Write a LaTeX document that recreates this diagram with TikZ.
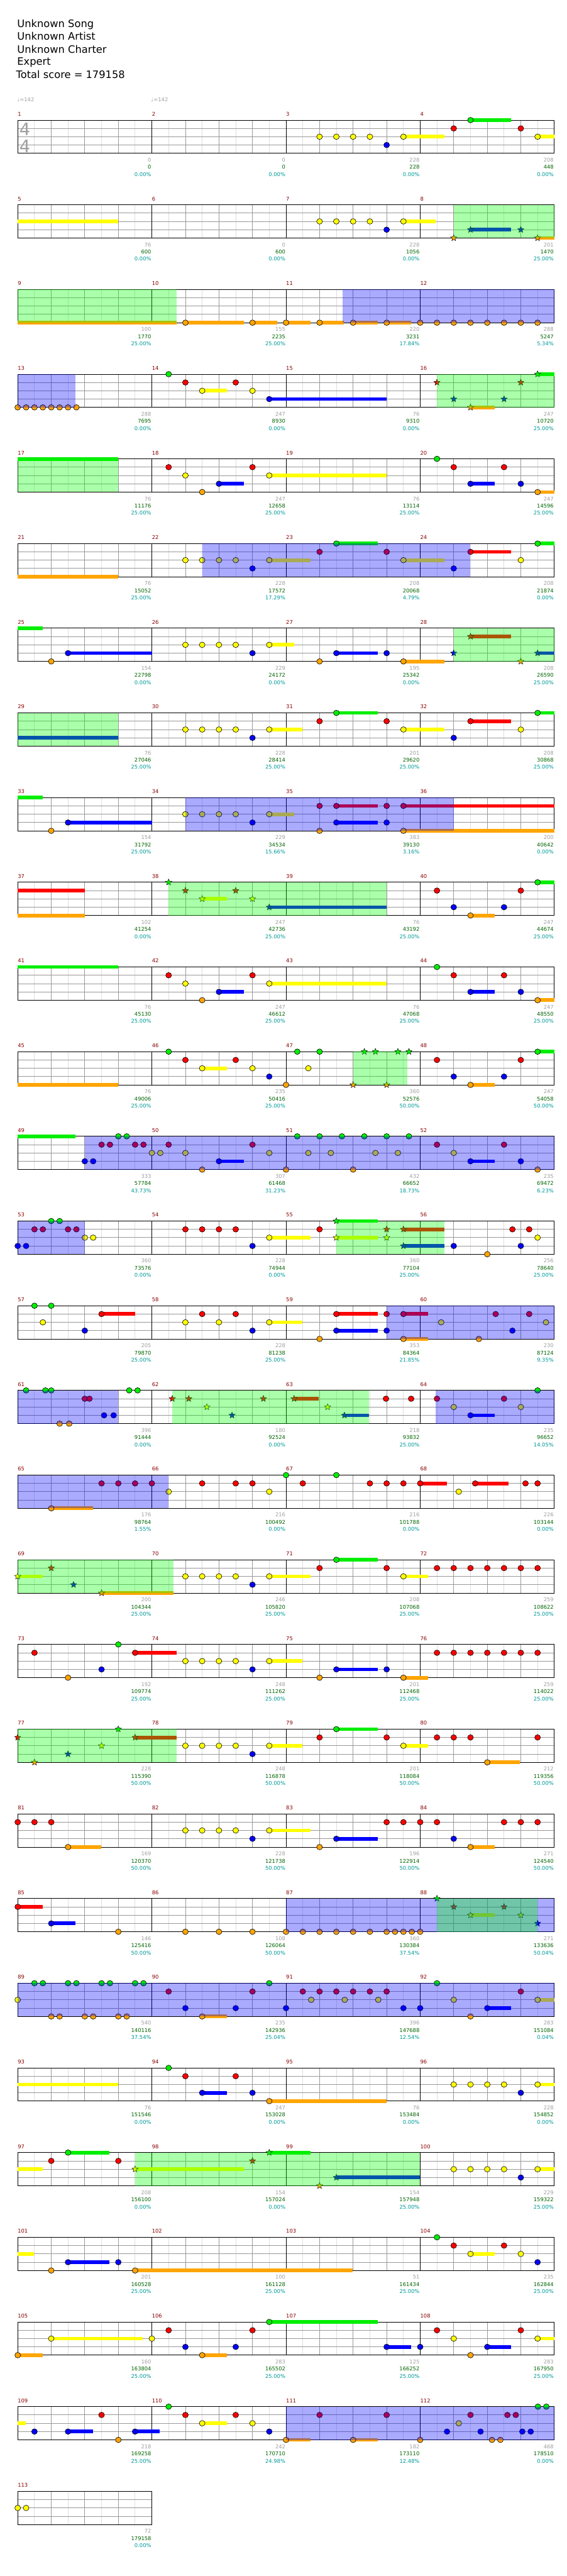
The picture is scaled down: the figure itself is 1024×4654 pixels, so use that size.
\documentclass[tikz,border=0pt]{standalone}
\usepackage{fontspec}
\setmainfont{DejaVu Sans}
\usetikzlibrary{shapes.geometric}
\definecolor{cg}{RGB}{0,238,0}
\definecolor{pg}{RGB}{0,255,0}
\definecolor{cr}{RGB}{255,0,0}
\definecolor{cy}{RGB}{255,255,0}
\definecolor{cb}{RGB}{0,0,255}
\definecolor{co}{RGB}{255,165,0}
\definecolor{lite}{RGB}{222,222,222}
\definecolor{mid}{RGB}{153,153,153}
\definecolor{mred}{RGB}{139,0,0}
\definecolor{sgreen}{RGB}{0,100,0}
\definecolor{steal}{RGB}{0,153,153}
\definecolor{tgray}{RGB}{160,160,160}
\newcommand\xp[1]{32+(#1)*30.3125}
\newcommand\NoteAt[3]{\filldraw[fill=#3,draw=black,line width=0.7pt] ({\xp{#1}},{(#2)*15}) ellipse [x radius=5.2,y radius=5];}
\newcommand\SusAt[4]{\fill[#4] ({\xp{#1}},{(#3)*15-3.3}) rectangle ({\xp{#2}},{(#3)*15+3.3});}
\newcommand\StarAt[3]{\node[star,star points=5,star point ratio=2.3,minimum size=12pt,inner sep=0pt,fill=#3,draw=black,line width=0.5pt] at ({\xp{#1}},{(#2)*15}) {};}
\newcommand\nG[1]{\foreach \q in {#1}{\NoteAt{\q}{0}{cg}}}
\newcommand\nR[1]{\foreach \q in {#1}{\NoteAt{\q}{1}{cr}}}
\newcommand\nY[1]{\foreach \q in {#1}{\NoteAt{\q}{2}{cy}}}
\newcommand\nB[1]{\foreach \q in {#1}{\NoteAt{\q}{3}{cb}}}
\newcommand\nO[1]{\foreach \q in {#1}{\NoteAt{\q}{4}{co}}}
\newcommand\tG[1]{\foreach \q in {#1}{\StarAt{\q}{0}{cg}}}
\newcommand\tR[1]{\foreach \q in {#1}{\StarAt{\q}{1}{cr}}}
\newcommand\tY[1]{\foreach \q in {#1}{\StarAt{\q}{2}{cy}}}
\newcommand\tB[1]{\foreach \q in {#1}{\StarAt{\q}{3}{cb}}}
\newcommand\tO[1]{\foreach \q in {#1}{\StarAt{\q}{4}{co}}}
\newcommand\sG[2]{\SusAt{#1}{#2}{0}{cg}}
\newcommand\sR[2]{\SusAt{#1}{#2}{1}{cr}}
\newcommand\sY[2]{\SusAt{#1}{#2}{2}{cy}}
\newcommand\sB[2]{\SusAt{#1}{#2}{3}{cb}}
\newcommand\sO[2]{\SusAt{#1}{#2}{4}{co}}
\newcommand\Rb[2]{\fill[cb,fill opacity=0.3333] ({\xp{#1}},0) rectangle ({\xp{#2}},60);}
\newcommand\Rg[2]{\fill[pg,fill opacity=0.3333] ({\xp{#1}},0) rectangle ({\xp{#2}},60);}
\newcommand\FullGrid{%
 \foreach \i in {1,3,...,31}{\draw[lite,line width=1pt] ({\xp{\i}},0) -- ({\xp{\i}},60);}
 \foreach \k in {1,2,3}{\draw[mid,line width=1pt] (32,{\k*15}) -- (1002,{\k*15});}
 \foreach \i in {2,4,...,30}{\draw[mid,line width=1pt] ({\xp{\i}},0) -- ({\xp{\i}},60);}
 \foreach \i in {8,16,24}{\draw[black,line width=1pt] ({\xp{\i}},0) -- ({\xp{\i}},60);}
 \draw[black,line width=1pt] (32,0) rectangle (1002,60);}
\newcommand\Mn[4]{%
 \node[mnum] at ({\xp{0}},-7.5) {#1};
 \node[mnum] at ({\xp{8}},-7.5) {#2};
 \node[mnum] at ({\xp{16}},-7.5) {#3};
 \node[mnum] at ({\xp{24}},-7.5) {#4};}
\newcommand\Sc[4]{%
 \node[sca] at ({\xp{#1*8}-1},75.5) {#2};
 \node[scb] at ({\xp{#1*8}-1},88.5) {#3};
 \node[scc] at ({\xp{#1*8}-1},101.5) {#4\%};}
\tikzset{
 mnum/.style={anchor=base west,inner sep=0pt,text=mred,font=\fontsize{9.5}{10}\selectfont},
 sca/.style={anchor=base east,inner sep=0pt,text=tgray,font=\fontsize{9.5}{10}\selectfont},
 scb/.style={anchor=base east,inner sep=0pt,text=sgreen,font=\fontsize{9.5}{10}\selectfont},
 scc/.style={anchor=base east,inner sep=0pt,text=steal,font=\fontsize{9.5}{10}\selectfont},
 head/.style={anchor=base west,inner sep=0pt,font=\fontsize{18.5}{20}\selectfont}
}
\begin{document}
\begin{tikzpicture}[x=1pt,y=-1pt]
\useasboundingbox (0,0) rectangle (1024,4654);
\fill[white] (0,0) rectangle (1024,4654);
\node[head] (h1) at (31,49.5) {Unknown Song};
\node[head] (h2) at (31,72.5) {Unknown Artist};
\node[head] (h3) at (31,95.5) {Unknown Charter};
\node[head] (h4) at (31,118) {Expert};
\node[head] (h5) at (29,141) {Total score = 179158};
\node[anchor=base west,inner sep=0pt,text=tgray,font=\fontsize{9.5}{10}\selectfont] (tp1) at (31,183.5) {♩=142};
\node[anchor=base west,inner sep=0pt,text=tgray,font=\fontsize{9.5}{10}\selectfont] (tp2) at (273,183.5) {♩=142};
% Row 1
\begin{scope}[shift={(0,217)}]
\FullGrid
\node[anchor=base,inner sep=0pt,text=tgray,font=\fontsize{31}{31}\selectfont] (ts1) at (45,28) {4};
\node[anchor=base,inner sep=0pt,text=tgray,font=\fontsize{31}{31}\selectfont] (ts2) at (45,58) {4};
\Mn{1}{2}{3}{4}
\sY{23}{25.43}\sG{27}{29.43}\sY{31}{32}
\nY{18,19,20,21,23}\nB{22}\nR{26,30}\nG{27}\nY{31}
\Sc{1}{0}{0}{0.00}\Sc{2}{0}{0}{0.00}\Sc{3}{228}{228}{0.00}\Sc{4}{208}{448}{0.00}
\end{scope}
% Row 2
\begin{scope}[shift={(0,370)}]
\FullGrid\Mn{5}{6}{7}{8}
\sY{0}{6}\sY{23}{24.93}\sB{27}{29.43}\sO{31}{32}
\nY{18,19,20,21,23}\nB{22}\tO{26,31}\tB{27,30}
\Rg{26}{32}
\Sc{1}{76}{600}{0.00}\Sc{2}{0}{600}{0.00}\Sc{3}{228}{1056}{0.00}\Sc{4}{201}{1470}{25.00}
\end{scope}
% Row 3
\begin{scope}[shift={(0,523)}]
\FullGrid\Mn{9}{10}{11}{12}
\sO{0}{9.46}\sO{10}{13.48}\sO{14}{15.46}\sO{16}{17.46}\sO{18}{19.43}\sO{20}{21.46}\sO{22}{23.46}
\nO{10,14,16,18,20,22,24,25,26,27,28,29,30,31}
\Rg{0}{9.46}\Rb{19.37}{32}
\Sc{1}{100}{1770}{25.00}\Sc{2}{155}{2235}{25.00}\Sc{3}{220}{3231}{17.84}\Sc{4}{288}{5247}{5.34}
\end{scope}
% Row 4
\begin{scope}[shift={(0,676)}]
\FullGrid\Mn{13}{14}{15}{16}
\sY{11}{12.46}\sB{15}{22}\sO{27}{28.43}\sG{31}{32}
\nO{0,0.5,1,1.5,2,2.5,3,3.5}\nG{9}\nR{10,13}\nY{11,14}\nB{15}
\tR{25,30}\tB{26,29}\tO{27}\tG{31}
\Rb{0}{3.46}\Rg{25}{32}
\Sc{1}{288}{7695}{0.00}\Sc{2}{247}{8930}{0.00}\Sc{3}{76}{9310}{0.00}\Sc{4}{247}{10720}{25.00}
\end{scope}
% Row 5
\begin{scope}[shift={(0,829)}]
\FullGrid\Mn{17}{18}{19}{20}
\sG{0}{6}\sB{12}{13.48}\sY{15}{22}\sB{27}{28.43}\sO{31}{32}
\nR{9,14,26,29}\nY{10,15}\nO{11,31}\nB{12,27,30}\nG{25}
\Rg{0}{6}
\Sc{1}{76}{11176}{25.00}\Sc{2}{247}{12658}{25.00}\Sc{3}{76}{13114}{25.00}\Sc{4}{247}{14596}{25.00}
\end{scope}
% Row 6
\begin{scope}[shift={(0,982)}]
\FullGrid\Mn{21}{22}{23}{24}
\sO{0}{6}\sY{15}{17.46}\sG{19}{21.46}\sY{23}{25.43}\sR{27}{29.43}\sG{31}{32}
\nY{10,11,12,13,15,23,30}\nB{14,26}\nR{18,22,27}\nG{19,31}
\Rb{11}{27}
\Sc{1}{76}{15052}{25.00}\Sc{2}{228}{17572}{17.29}\Sc{3}{208}{20068}{4.79}\Sc{4}{208}{21874}{0.00}
\end{scope}
% Row 7
\begin{scope}[shift={(0,1135)}]
\FullGrid\Mn{25}{26}{27}{28}
\sG{0}{1.48}\sB{3}{8}\sY{15}{16.48}\sB{19}{21.46}\sO{23}{25.43}\SusAt{27}{29.43}{1}{cr}\sB{31}{32}
\nO{2,18,23}\nB{3,14,19,22}\nY{10,11,12,13,15}
\tB{26,31}\tR{27}\tO{30}
\Rg{26}{32}
\Sc{1}{154}{22798}{0.00}\Sc{2}{229}{24172}{0.00}\Sc{3}{195}{25342}{0.00}\Sc{4}{208}{26590}{25.00}
\end{scope}
% Row 8
\begin{scope}[shift={(0,1288)}]
\FullGrid\Mn{29}{30}{31}{32}
\sB{0}{6}\sY{15}{16.96}\sG{19}{21.46}\sY{23}{25.43}\sR{27}{29.43}\sG{31}{32}
\nY{10,11,12,13,15,23,30}\nB{14,26}\nR{18,22,27}\nG{19,31}
\Rg{0}{6}
\Sc{1}{76}{27046}{25.00}\Sc{2}{228}{28414}{25.00}\Sc{3}{201}{29620}{25.00}\Sc{4}{208}{30868}{25.00}
\end{scope}
% Row 9
\begin{scope}[shift={(0,1441)}]
\FullGrid\Mn{33}{34}{35}{36}
\sG{0}{1.48}\sB{3}{8}\sY{15}{16.48}\sR{19}{21.46}\sB{19}{21.46}\sR{23}{32}\sO{23}{32}
\nO{2,18,23}\nB{3,14,19,22}\nY{10,11,12,13,15}\nR{18,19,22,23}
\Rb{10}{26}
\Sc{1}{154}{31792}{25.00}\Sc{2}{229}{34534}{15.66}\Sc{3}{383}{39130}{3.16}\Sc{4}{200}{40642}{0.00}
\end{scope}
% Row 10
\begin{scope}[shift={(0,1594)}]
\FullGrid\Mn{37}{38}{39}{40}
\sR{0}{4}\sO{0}{4}\sY{11}{12.46}\sB{15}{22}\sO{27}{28.43}\sG{31}{32}
\tG{9}\tR{10,13}\tY{11,14}\tB{15}
\nR{25,30}\nB{26,29}\nO{27}\nG{31}
\Rg{9}{22}
\Sc{1}{102}{41254}{0.00}\Sc{2}{247}{42736}{25.00}\Sc{3}{76}{43192}{25.00}\Sc{4}{247}{44674}{25.00}
\end{scope}
% Row 11
\begin{scope}[shift={(0,1747)}]
\FullGrid\Mn{41}{42}{43}{44}
\sG{0}{6}\sB{12}{13.48}\sY{15}{22}\sB{27}{28.43}\sO{31}{32}
\nR{9,14,26,29}\nY{10,15}\nO{11,31}\nB{12,27,30}\nG{25}
\Sc{1}{76}{45130}{25.00}\Sc{2}{247}{46612}{25.00}\Sc{3}{76}{47068}{25.00}\Sc{4}{247}{48550}{25.00}
\end{scope}
% Row 12
\begin{scope}[shift={(0,1900)}]
\FullGrid\Mn{45}{46}{47}{48}
\sO{0}{6}\sY{11}{12.46}\sO{27}{28.43}\sG{31}{32}
\nG{9,16.67,18,31}\nR{10,13,25,30}\nY{11,14,17.33}\nB{15,26,29}\nO{16,27}
\tG{20.67,21.33,22.67,23.33}\tO{20,22}
\Rg{20}{23.25}
\Sc{1}{76}{49006}{25.00}\Sc{2}{235}{50416}{25.00}\Sc{3}{360}{52576}{50.00}\Sc{4}{247}{54058}{50.00}
\end{scope}
% Row 13
\begin{scope}[shift={(0,2053)}]
\FullGrid\Mn{49}{50}{51}{52}
\sG{0}{3.46}\sB{12}{13.48}\sB{27}{28.43}
\nB{4,4.5,12,27,30}\nR{5,5.5,7,7.5,9,14,25,29}\nG{6,6.5,16.67,18,19.33,20.67,22,23.33}
\nY{8,8.5,10,15,17.33,18.67,21.33,22.67,26}\nO{11,16,20,31}
\Rb{4}{32}
\Sc{1}{333}{57784}{43.73}\Sc{2}{307}{61468}{31.23}\Sc{3}{432}{66652}{18.73}\Sc{4}{235}{69472}{6.23}
\end{scope}
% Row 14
\begin{scope}[shift={(0,2206)}]
\FullGrid\Mn{53}{54}{55}{56}
\sY{15}{17.46}\sG{19}{21.46}\sY{19}{21.46}\sR{23}{25.43}\sB{23}{25.43}
\nB{0,0.5,14,26,30}\nR{1,1.5,3,3.5,10,11,12,13,18,29.5,30.5}\nG{2,2.5}\nY{4,4.5,15,31}\nO{28}
\tG{19}\tY{19,22}\tR{22,23}\tB{23}
\Rb{0}{4}\Rg{19}{25.43}
\Sc{1}{360}{73576}{0.00}\Sc{2}{228}{74944}{0.00}\Sc{3}{360}{77104}{25.00}\Sc{4}{256}{78640}{25.00}
\end{scope}
% Row 15
\begin{scope}[shift={(0,2359)}]
\FullGrid\Mn{57}{58}{59}{60}
\sR{5}{7}\sY{15}{16.96}\sR{19}{21.46}\sB{19}{21.46}\sR{23}{24.48}\sO{23}{24.48}
\nG{1,2}\nY{1.5,10,12,15,25.25,31.5}\nB{4,14,19,22,29.5}\nR{5,11,13,19,22,23,28.5,30.5}\nO{18,23,27.5}
\Rb{22}{32}
\Sc{1}{205}{79870}{25.00}\Sc{2}{228}{81238}{25.00}\Sc{3}{353}{84364}{21.85}\Sc{4}{230}{87124}{9.35}
\end{scope}
% Row 16
\begin{scope}[shift={(0,2512)}]
\FullGrid\Mn{61}{62}{63}{64}
\sR{16.48}{17.93}\sB{19.48}{20.96}\sB{27}{28.43}
\nG{0.5,1.65,2,6.65,7.15,31}\nO{2.5,3.07}\nR{4,4.28,21.96,23.46,25,29}\nB{5.15,5.72,27}\nY{26,30}
\tR{9.22,10.2,14.65,16.48}\tY{11.28,18.48}\tB{12.78,19.48}
\Rb{0}{6}\Rg{9.2}{20.96}\Rb{24.93}{32}
\Sc{1}{396}{91444}{0.00}\Sc{2}{180}{92524}{0.00}\Sc{3}{218}{93832}{25.00}\Sc{4}{235}{96652}{14.05}
\end{scope}
% Row 17
\begin{scope}[shift={(0,2665)}]
\FullGrid\Mn{65}{66}{67}{68}
\sO{2}{4.48}\sR{24}{25.6}\sR{27.28}{29.26}
\nO{2}\nR{5,6,7,8,11,13,14,17,21,22,23,24,27.28,30.28,31}\nY{9,15,26.3}\nG{16,19}
\Rb{0}{9}
\Sc{1}{176}{98764}{1.55}\Sc{2}{216}{100492}{0.00}\Sc{3}{216}{101788}{0.00}\Sc{4}{226}{103144}{0.00}
\end{scope}
% Row 18
\begin{scope}[shift={(0,2818)}]
\FullGrid\Mn{69}{70}{71}{72}
\sY{0}{1.48}\sO{5}{9.28}\sY{15}{17.46}\sG{19}{21.46}\sY{23}{24.46}
\tY{0}\tR{2}\tB{3.33}\tO{5}
\nY{10,11,12,13,15,23}\nB{14}\nR{18,22,25,26,27,28,29,30,31}\nG{19}
\Rg{0}{9.28}
\Sc{1}{200}{104344}{25.00}\Sc{2}{246}{105820}{25.00}\Sc{3}{208}{107068}{25.00}\Sc{4}{259}{108622}{25.00}
\end{scope}
% Row 19
\begin{scope}[shift={(0,2971)}]
\FullGrid\Mn{73}{74}{75}{76}
\sR{7}{9.48}\sY{15}{16.96}\sB{19}{21.46}\sO{23}{24.46}
\nR{1,7,25,26,27,28,29,30,31}\nO{3,18,23}\nB{5,14,19,22}\nG{6}\nY{10,11,12,13,15}
\Sc{1}{192}{109774}{25.00}\Sc{2}{248}{111262}{25.00}\Sc{3}{201}{112468}{25.00}\Sc{4}{259}{114022}{25.00}
\end{scope}
% Row 20
\begin{scope}[shift={(0,3124)}]
\FullGrid\Mn{77}{78}{79}{80}
\sR{7}{9.48}\sY{15}{16.96}\sG{19}{21.46}\sY{23}{24.46}\sO{28}{29.96}
\tR{0,7}\tO{1}\tB{3}\tY{5}\tG{6}
\nY{10,11,12,13,15,23}\nB{14}\nR{18,22,25,26,27,31}\nG{19}\nO{28}
\Rg{0}{9.48}
\Sc{1}{228}{115390}{50.00}\Sc{2}{248}{116878}{50.00}\Sc{3}{201}{118084}{50.00}\Sc{4}{212}{119356}{50.00}
\end{scope}
% Row 21
\begin{scope}[shift={(0,3277)}]
\FullGrid\Mn{81}{82}{83}{84}
\sO{3}{4.98}\sY{15}{17.46}\sB{19}{21.46}\sO{27}{28.43}
\nR{0,1,2,22,23,24,25,29,30,31}\nO{3,18,27}\nY{10,11,12,13,15}\nB{14,19,26}
\Sc{1}{169}{120370}{50.00}\Sc{2}{228}{121738}{50.00}\Sc{3}{196}{122914}{50.00}\Sc{4}{271}{124540}{50.00}
\end{scope}
% Row 22
\begin{scope}[shift={(0,3430)}]
\FullGrid\Mn{85}{86}{87}{88}
\sR{0}{1.48}\sB{2}{3.46}\sY{27}{28.43}
\nR{0}\nB{2}\nO{6,10,12,14,16,17,18,19,20,21,22,22.5,23,23.5,24}
\tG{25}\tR{26,29}\tY{27,30}\tB{31}
\Rb{16}{32}\Rg{25}{31}
\Sc{1}{146}{125416}{50.00}\Sc{2}{108}{126064}{50.00}\Sc{3}{360}{130384}{37.54}\Sc{4}{271}{133636}{50.04}
\end{scope}
% Row 23
\begin{scope}[shift={(0,3583)}]
\FullGrid\Mn{89}{90}{91}{92}
\sO{11}{12.46}\sB{28}{29.43}\sY{31}{32}
\nY{0,17.5,19.5,21.5,26,31}\nG{1,1.5,3,3.5,5,5.5,7,7.5,15,25}\nO{2,2.5,4,4.5,6,6.5,11,27}
\nR{9,14,17,18,19,20,21,22,30}\nB{10,13,16,23,24,28}
\Rb{0}{32}
\Sc{1}{540}{140116}{37.54}\Sc{2}{235}{142936}{25.04}\Sc{3}{396}{147688}{12.54}\Sc{4}{283}{151084}{0.04}
\end{scope}
% Row 24
\begin{scope}[shift={(0,3736)}]
\FullGrid\Mn{93}{94}{95}{96}
\sY{0}{6}\sB{11}{12.46}\sO{15}{22}\sY{31}{32}
\nG{9}\nR{10,13}\nB{11,14,30}\nO{15}\nY{26,27,28,29,31}
\Sc{1}{76}{151546}{0.00}\Sc{2}{247}{153028}{0.00}\Sc{3}{76}{153484}{0.00}\Sc{4}{228}{154852}{0.00}
\end{scope}
% Row 25
\begin{scope}[shift={(0,3889)}]
\FullGrid\Mn{97}{98}{99}{100}
\sY{0}{1.48}\sG{3}{5.46}\sY{7}{13.48}\sG{15}{17.46}\sB{19}{24}\sY{31}{32}
\nR{2,6}\nG{3}\tY{7}\tR{14}\tG{15}\tO{18}\tB{19}
\nY{26,27,28,29,31}\nB{30}
\Rg{7}{24}
\Sc{1}{208}{156100}{0.00}\Sc{2}{154}{157024}{0.00}\Sc{3}{154}{157948}{25.00}\Sc{4}{229}{159322}{25.00}
\end{scope}
% Row 26
\begin{scope}[shift={(0,4042)}]
\FullGrid\Mn{101}{102}{103}{104}
\sY{0}{0.98}\sB{3}{5.46}\sO{7}{19.96}\sY{27}{28.43}
\nO{2,7}\nB{3,6,31}\nG{25}\nR{26,29}\nY{27,30}
\Sc{1}{201}{160528}{25.00}\Sc{2}{100}{161128}{25.00}\Sc{3}{51}{161434}{25.00}\Sc{4}{235}{162844}{25.00}
\end{scope}
% Row 27
\begin{scope}[shift={(0,4195)}]
\FullGrid\Mn{105}{106}{107}{108}
\sO{0}{1.48}\sY{2}{7.46}\sO{11}{12.46}\sG{15}{21.46}\sB{22}{23.46}\sB{28}{29.43}\sY{31}{32}
\nO{0,11,27}\nY{2,8,26,31}\nR{9,14,25,30}\nB{10,13,22,24,28}\nG{15}
\Sc{1}{160}{163804}{25.00}\Sc{2}{283}{165502}{25.00}\Sc{3}{125}{166252}{25.00}\Sc{4}{283}{167950}{25.00}
\end{scope}
% Row 28
\begin{scope}[shift={(0,4348)}]
\FullGrid\Mn{109}{110}{111}{112}
\sY{0}{0.48}\sB{3}{4.48}\sB{7}{8.48}\sY{11}{12.46}\sO{16}{17.46}\sO{20}{21.46}
\nB{1,3,7,15,25.6,27.6,30.09,30.59}\nR{5,10,13,18,22,27,29.2,29.7}\nO{6,16,20,24,28.28,28.78}
\nG{9,31.02,31.52}\nY{11,14,26.3}
\Rb{16}{32}
\Sc{1}{218}{169258}{25.00}\Sc{2}{242}{170710}{24.98}\Sc{3}{182}{173110}{12.48}\Sc{4}{468}{178510}{0.00}
\end{scope}
% Row 29
\begin{scope}[shift={(0,4501)}]
\foreach \i in {1,3,5,7}{\draw[lite,line width=1pt] ({\xp{\i}},0) -- ({\xp{\i}},60);}
\foreach \k in {1,2,3}{\draw[mid,line width=1pt] (32,{\k*15}) -- ({\xp{8}},{\k*15});}
\foreach \i in {2,4,6}{\draw[mid,line width=1pt] ({\xp{\i}},0) -- ({\xp{\i}},60);}
\draw[black,line width=1pt] (32,0) rectangle ({\xp{8}},60);
\node[mnum] (m113) at ({\xp{0}},-7.5) {113};
\nY{0,0.5}
\Sc{1}{72}{179158}{0.00}
\end{scope}
\end{tikzpicture}
\end{document}
